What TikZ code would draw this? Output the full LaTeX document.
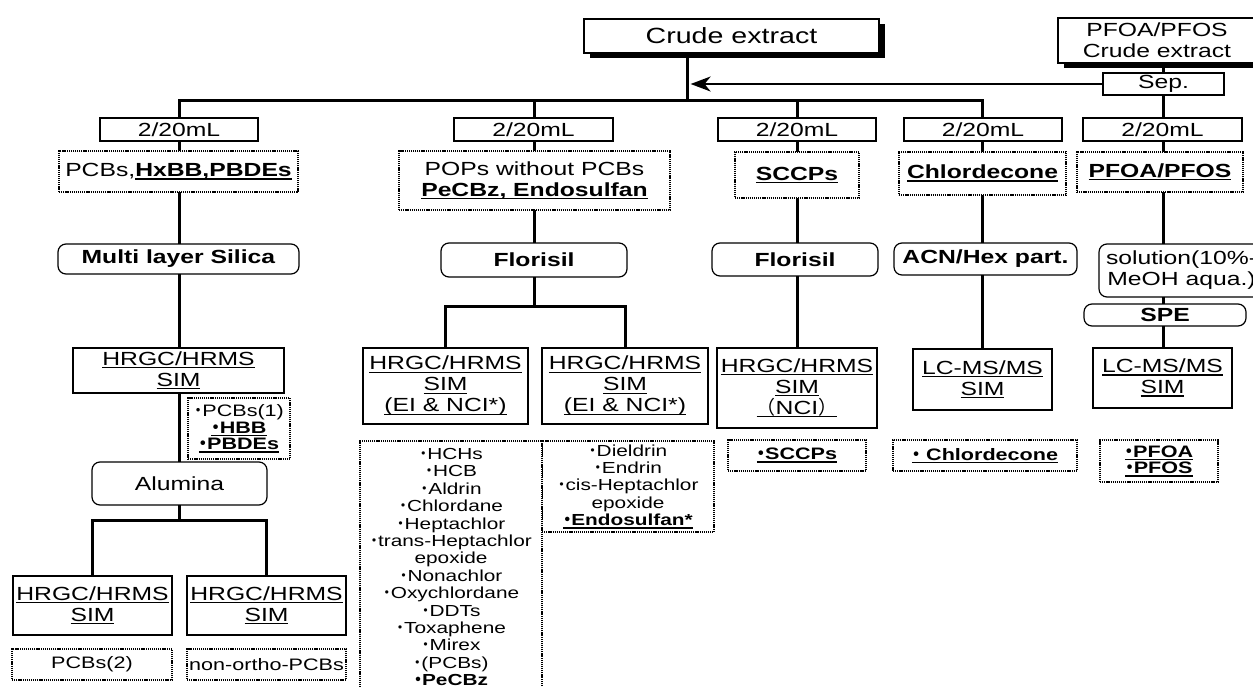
\documentclass[tikz,border=0pt]{standalone}
\usepackage{fontspec}
\setmainfont{Liberation Sans}[FakeStretch=1.3]
\newfontfamily\cjkfont{Noto Sans CJK JP}
\usetikzlibrary{shadows,arrows.meta}
\newcommand{\fsbig}{\fontsize{11}{12}\selectfont}
\newcommand{\fsmain}{\fontsize{9.5}{10.5}\selectfont}
\newcommand{\fssmall}{\fontsize{8.3}{8.3}\selectfont}
\newcommand{\fslist}{\fontsize{8}{8.7}\selectfont}
\newcommand{\uln}[1]{\setbox0=\hbox{#1}\leavevmode\rlap{\rule[-1.5pt]{\wd0}{0.7pt}}\box0}
\newcommand{\dt}{\makebox[0.5em]{\cjkfont ・}}
\begin{document}
\begin{tikzpicture}[x=0.5pt,y=-0.5pt,
  corners/.style n args={4}{at={({(#1+#3)/2},{(#2+#4)/2})}, minimum width={(#3-#1)*0.5pt}, minimum height={(#4-#2)*0.5pt}},
  base/.style={inner sep=0pt, outer sep=0pt, align=center, font=\fsmain, fill=white, anchor=center},
  sbox/.style={base, draw, line width=0.6pt},
  rbox/.style={sbox, rounded corners=4pt},
  dbox/.style={base, draw, line width=1.2pt, dash pattern=on 0.6pt off 0.45pt},
  shad/.style={drop shadow={shadow xshift=3pt, shadow yshift=-2.5pt, fill=black, opacity=1}},
  conn/.style={line width=1.5pt, line join=miter}]
\fill[white] (0,0) rectangle (1253,686);
\clip (0,0) rectangle (1253,686);
% top
\node[sbox, shad, font=\fsbig, corners={584}{19}{879}{53}] (crude) {Crude extract};
\node[sbox, shad, corners={1058}{18}{1256}{63}] (pcrude) {PFOA/PFOS\\Crude extract};
\node[sbox, corners={1103}{73}{1224}{95}] (sep) {Sep.};
% 2/20mL
\node[sbox, corners={100}{118}{258}{141}] (v1) {2/20mL};
\node[sbox, corners={454}{118}{613}{141}] (v2) {2/20mL};
\node[sbox, corners={718}{118}{876}{141}] (v3) {2/20mL};
\node[sbox, corners={904}{118}{1062}{141}] (v4) {2/20mL};
\node[sbox, corners={1083}{118}{1242}{141}] (v5) {2/20mL};
% row 2
\node[dbox, corners={59}{151}{298}{192}] (d1) {PCBs,\uln{\textbf{HxBB,PBDEs}}};
\node[dbox, corners={399}{151}{670}{210}] (d2) {POPs without PCBs\\\uln{\textbf{PeCBz, Endosulfan}}};
\node[dbox, corners={735}{152}{859}{198}] (d3) {\uln{\textbf{SCCPs}}};
\node[dbox, corners={899}{152}{1066}{195}] (d4) {\uln{\textbf{Chlordecone}}};
\node[dbox, corners={1077}{152}{1243}{192}] (d5) {\uln{\textbf{PFOA/PFOS}}};
% row 3
\node[rbox, corners={58}{244}{299}{274}] (r1) {\textbf{Multi layer Silica}};
\node[rbox, corners={441}{243}{627}{277}] (r2) {\textbf{Florisil}};
\node[rbox, corners={712}{243}{878}{276}] (r3) {\textbf{Florisil}};
\node[rbox, corners={894}{243}{1077}{275}] (r4) {\textbf{ACN/Hex part.}};
\node[rbox, corners={1099}{244}{1264}{297}] (r5) {solution(10\%-\\MeOH aqua.)};
\node[rbox, corners={1084}{304}{1246}{326}] (spe) {\textbf{SPE}};
% row 4
\node[sbox, corners={73}{348}{284}{393}] (h1) {\uln{HRGC/HRMS}\\\uln{SIM}};
\node[sbox, corners={363}{348}{528}{424}] (h2a) {\uln{HRGC/HRMS}\\\uln{SIM}\\\uln{(EI \& NCI*)}};
\node[sbox, corners={542}{348}{708}{424}] (h2b) {\uln{HRGC/HRMS}\\\uln{SIM}\\\uln{(EI \& NCI*)}};
\node[sbox, corners={717}{348}{877}{428}] (h3) {\uln{HRGC/HRMS}\\\uln{SIM}\\\uln{{\cjkfont （}NCI{\cjkfont ）}}};
\node[sbox, corners={913}{349}{1052}{410}] (h4) {\uln{LC-MS/MS}\\\uln{SIM}};
\node[sbox, corners={1093}{348}{1232}{408}] (h5) {\uln{LC-MS/MS}\\\uln{SIM}};
% col1 lower
\node[dbox, font=\fssmall, corners={188}{398}{290}{459}] (l1) {\dt PCBs(1)\\\uln{\textbf{\dt HBB}}\\\uln{\textbf{\dt PBDEs}}};
\node[rbox, corners={92}{462}{267}{505}] (al) {Alumina};
\node[sbox, corners={13}{576}{172}{635}] (h1a) {\uln{HRGC/HRMS}\\\uln{SIM}};
\node[sbox, corners={187}{576}{346}{635}] (h1b) {\uln{HRGC/HRMS}\\\uln{SIM}};
\node[dbox, font=\fssmall, corners={12}{649}{172}{680}] (p1a) {PCBs(2)};
\node[dbox, font=\fssmall, corners={187}{649}{346}{680}] (p1b) {non-ortho-PCBs};
% lists
\node[dbox, font=\fslist, corners={542}{441}{714}{532}] (L2b) {\dt Dieldrin\\\dt Endrin\\\dt cis-Heptachlor\\epoxide\\\uln{\textbf{\dt Endosulfan*}}};
\node[dbox, font=\fslist, corners={360}{441}{542}{693}] (L2a) {\dt HCHs\\\dt HCB\\\dt Aldrin\\\dt Chlordane\\\dt Heptachlor\\\dt trans-Heptachlor\\epoxide\\\dt Nonachlor\\\dt Oxychlordane\\\dt DDTs\\\dt Toxaphene\\\dt Mirex\\\dt (PCBs)\\\textbf{\dt PeCBz}};
\node[dbox, font=\fssmall, corners={728}{440}{866}{471}] (s3) {\uln{\textbf{\dt SCCPs}}};
\node[dbox, font=\fssmall, corners={893}{440}{1077}{471}] (s4) {\uln{\textbf{\dt\ Chlordecone}}};
\node[dbox, font=\fssmall, corners={1100}{440}{1218}{482}] (s5) {\uln{\textbf{\dt PFOA}}\\\uln{\textbf{\dt PFOS}}};
% coordinates
\coordinate (c1) at (179,0);
\coordinate (c2) at (534,0);
\coordinate (c3) at (797,0);
\coordinate (c4) at (982,0);
\coordinate (c5) at (1163,0);
\coordinate (trunk) at (687,100);
\coordinate (k1) at (179,520);
\coordinate (k2) at (534,306);
% connectors top
\draw[conn] (crude.south -| trunk) -- (trunk);
\draw[conn] (v1.north -| c1) |- (trunk) -| (v4.north -| c4);
\draw[conn] (trunk -| c2) -- (v2.north -| c2);
\draw[conn] (trunk -| c3) -- (v3.north -| c3);
\draw[line width=1pt, -{Stealth[length=10pt, width=7.5pt, inset=3pt]}] (sep.west) -- ([xshift=1.8pt]sep.west -| trunk);
% col1
\draw[conn] (v1.south -| c1) -- (d1.north -| c1);
\draw[conn] (d1.south -| c1) -- (r1.north -| c1);
\draw[conn] (r1.south -| c1) -- (h1.north -| c1);
\draw[conn] (h1.south -| c1) -- (al.north -| c1);
\draw[conn] (al.south -| c1) -- (k1);
\draw[conn] (h1a.north) |- (k1) -| (h1b.north);
% col2
\draw[conn] (v2.south -| c2) -- (d2.north -| c2);
\draw[conn] (d2.south -| c2) -- (r2.north -| c2);
\draw[conn] (r2.south -| c2) -- (k2);
\draw[conn] (h2a.north) |- (k2) -| (h2b.north);
% col3
\draw[conn] (v3.south -| c3) -- (d3.north -| c3);
\draw[conn] (d3.south -| c3) -- (r3.north -| c3);
\draw[conn] (r3.south -| c3) -- (h3.north -| c3);
% col4
\draw[conn] (v4.south -| c4) -- (d4.north -| c4);
\draw[conn] (d4.south -| c4) -- (r4.north -| c4);
\draw[conn] (r4.south -| c4) -- (h4.north -| c4);
% col5
\draw[conn] ([yshift=-2.5pt]pcrude.south -| c5) -- (sep.north -| c5);
\draw[conn] (sep.south -| c5) -- (v5.north -| c5);
\draw[conn] (v5.south -| c5) -- (d5.north -| c5);
\draw[conn] (d5.south -| c5) -- (r5.north -| c5);
\draw[conn] (r5.south -| c5) -- (spe.north -| c5);
\draw[conn] (spe.south -| c5) -- (h5.north -| c5);
\end{tikzpicture}
\end{document}
